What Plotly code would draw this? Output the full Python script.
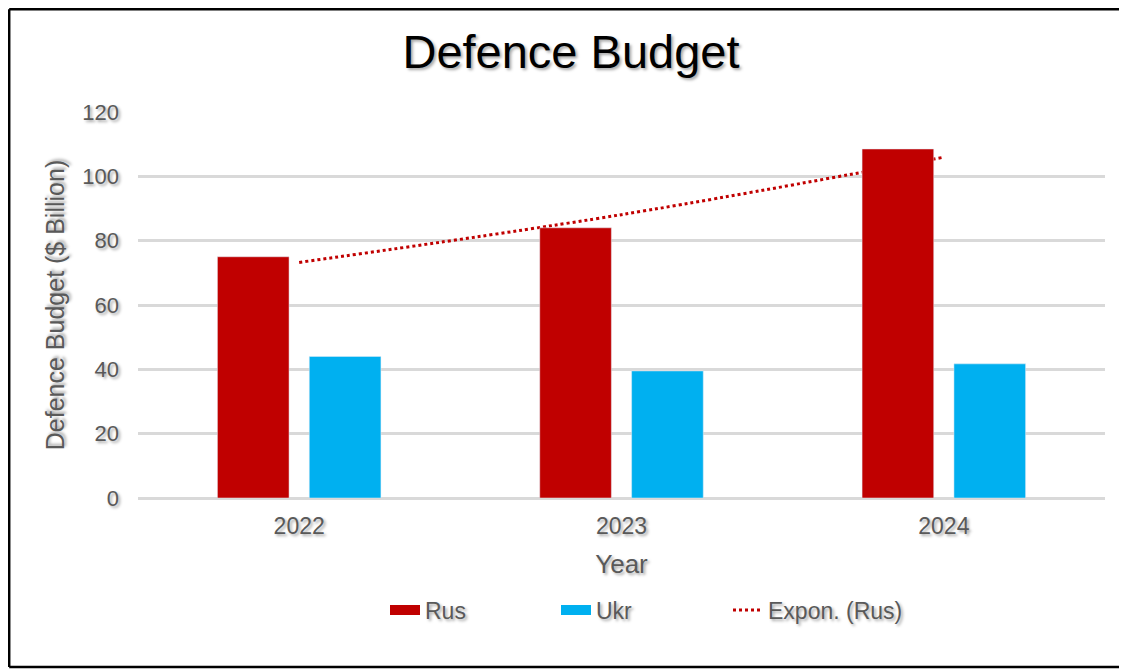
import numpy as np
import plotly.graph_objects as go

years = ["2022", "2023", "2024"]
rus = [75, 84, 108.5]
ukr = [44, 39.5, 41.7]
y_ticks = [0, 20, 40, 60, 80, 100, 120]

# Exponential trendline (least squares fit on log values, like Excel)
xi = np.arange(len(rus))
b, a = np.polyfit(xi, np.log(rus), 1)
trend = list(np.exp(a + b * xi))

# page has an 8px body margin; figure coords = page coords - 8
OFF = 8
W, H = 1127 - OFF, 670 - OFF
L, T = 138 - OFF, 112 - OFF
pw, ph = 967, 386
R, B = W - L - pw, H - T - ph

shadow = "2px 2px 3px rgba(0,0,0,0.35)"
gray = "#595959"
RUS_C, UKR_C = "#C00000", "#00B0F0"


def px_x(page_px):
    return (page_px - OFF - L) / pw


def px_y(page_py):
    return (H - B - (page_py - OFF)) / ph


fig = go.Figure()
fig.add_trace(go.Scatter(
    x=years, y=trend, name="Expon. (Rus)", mode="lines",
    line=dict(color=RUS_C, width=3, dash="dot", shape="spline"),
    zorder=0, legend="legend2",
))
fig.add_trace(go.Bar(x=years, y=rus, name="Rus", marker_color=RUS_C, zorder=1,
                     showlegend=False, legendgroup="rus"))
fig.add_trace(go.Bar(x=years, y=ukr, name="Ukr", marker_color=UKR_C, zorder=1,
                     showlegend=False, legendgroup="ukr"))
# legend stand-ins drawn as wide swatches
fig.add_trace(go.Scatter(x=[None], y=[None], mode="lines", name="Rus", legendgroup="rus",
                         line=dict(color=RUS_C, width=13), legendrank=1))
fig.add_trace(go.Scatter(x=[None], y=[None], mode="lines", name="Ukr", legendgroup="ukr",
                         line=dict(color=UKR_C, width=13), legendrank=2))

# chart frame: top, left and bottom edges (right edge lies outside the picture)
xl, xr = px_x(OFF + 1.2), px_x(1200)
yt, yb = px_y(OFF + 1.2), px_y(667)
frame = dict(color="black", width=2.5)
for x0, y0, x1, y1 in [(xl, yt, xr, yt), (xl, yt, xl, yb), (xl, yb, xr, yb)]:
    fig.add_shape(type="line", xref="paper", yref="paper", x0=x0, y0=y0, x1=x1, y1=y1,
                  line=frame, layer="below")

legend_common = dict(orientation="h", xanchor="left", y=px_y(610), yanchor="middle",
                     font=dict(size=23, color=gray))

fig.update_layout(
    width=W, height=H,
    margin=dict(l=L, r=R, t=T, b=B),
    paper_bgcolor="white", plot_bgcolor="white",
    barmode="group", bargap=0.43, bargroupgap=0.22,
    font=dict(family="Liberation Sans, Arial, sans-serif", color=gray, size=22, shadow=shadow),
    title=dict(text="Defence Budget", x=(571 - OFF) / W, xref="container", xanchor="center",
               y=1 - (52 - OFF) / H, yref="container", yanchor="middle",
               font=dict(size=47, color="black", shadow=shadow)),
    xaxis=dict(type="category", categoryorder="array", categoryarray=years,
               showgrid=False, showline=False, zeroline=False, ticks="",
               ticklabelstandoff=12, tickfont=dict(size=23, color=gray),
               title=dict(text="Year", standoff=16, font=dict(size=26, color=gray))),
    yaxis=dict(range=[0, 120], tickvals=y_ticks, showgrid=True, gridcolor="#d9d9d9",
               gridwidth=2.5, zeroline=True, zerolinecolor="#d9d9d9", zerolinewidth=2.5,
               showline=False, ticks="", ticklabelstandoff=18,
               tickfont=dict(size=22, color=gray),
               title=dict(text="Defence Budget ($ Billion)", standoff=10,
                          font=dict(size=25, color=gray))),
    legend=dict(x=px_x(385), traceorder="normal", entrywidthmode="pixels", entrywidth=126,
                **legend_common),
    legend2=dict(x=px_x(728), **legend_common),
    showlegend=True,
)

fig.write_html("out.html")
